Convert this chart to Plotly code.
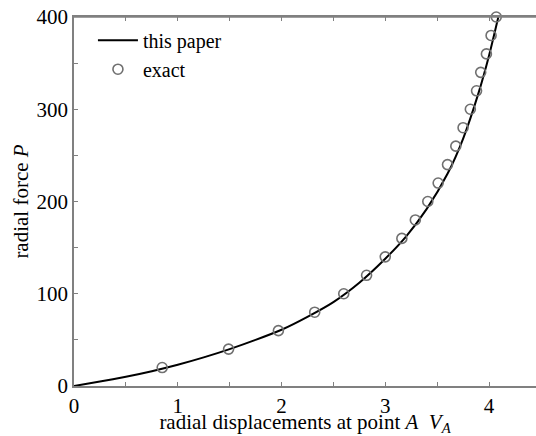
import plotly.graph_objects as go

# "this paper" curve
line_x = [0, 0.25, 0.5, 0.75, 1.0, 1.25, 1.5, 1.75, 2.0, 2.25, 2.5, 2.75, 3.0, 3.2, 3.4, 3.6, 3.75, 3.9, 4.0, 4.09]
line_y = [0, 4.8, 10, 16, 23, 31, 40, 50, 61, 75, 91, 112, 138, 162, 192, 230, 268, 318, 358, 400]

# "exact" points
exact_x = [0.85, 1.49, 1.97, 2.32, 2.60, 2.82, 3.00, 3.16, 3.29, 3.41, 3.51, 3.60, 3.68, 3.75, 3.82, 3.88, 3.92, 3.975, 4.02, 4.07]
exact_y = [20, 40, 60, 80, 100, 120, 140, 160, 180, 200, 220, 240, 260, 280, 300, 320, 340, 360, 380, 400]

x_ticks = [0, 1, 2, 3, 4]
y_ticks = [0, 100, 200, 300, 400]

font = "Liberation Serif, Times New Roman, serif"
FS = 21
AX = "#808080"

fig = go.Figure()
fig.add_trace(go.Scatter(x=line_x, y=line_y, mode="lines", name="this paper", cliponaxis=False,
                         line=dict(color="black", width=2, shape="spline", smoothing=0.6)))
fig.add_trace(go.Scatter(x=exact_x, y=exact_y, mode="markers", name="exact", cliponaxis=False,
                         marker=dict(symbol="circle-open", size=10, color="#707070",
                                     line=dict(width=1.6, color="#707070"))))

axis_common = dict(showgrid=False, zeroline=False, showline=True, linecolor=AX, linewidth=1.5,
                   ticks="inside", ticklen=4, tickcolor=AX, automargin=False,
                   ticklabeloverflow="allow",
                   tickfont=dict(family=font, size=FS, color="black"))

fig.update_layout(
    width=536, height=436,
    margin=dict(l=74, r=0, t=17, b=50),
    plot_bgcolor="white", paper_bgcolor="white",
    showlegend=True,
    legend=dict(x=0.041, y=0.99, xanchor="left", yanchor="top", bgcolor="rgba(0,0,0,0)",
                font=dict(family=font, size=FS - 1, color="black"), tracegroupgap=0,
                itemwidth=40),
    xaxis=dict(range=[0, 4.453], tickvals=x_ticks, mirror="allticks",
               minor=dict(ticks="inside", dtick=0.5, ticklen=4, tickcolor=AX),
               title=dict(text="radial displacements at point <i>A</i>  <i>V<sub>A</sub></i>",
                          font=dict(family=font, size=FS, color="black"), standoff=0),
               **axis_common),
    yaxis=dict(range=[0, 400], tickvals=y_ticks,
               minor=dict(ticks="inside", dtick=50, ticklen=4, tickcolor=AX),
               title=dict(text="radial force <i>P</i>",
                          font=dict(family=font, size=FS, color="black"), standoff=2),
               **axis_common),
    shapes=[dict(type="line", xref="paper", yref="paper", x0=0, x1=1, y0=1, y1=1,
                 line=dict(color=AX, width=1.5), layer="above")],
)

fig.write_html("out.html", config={"displayModeBar": False},
               post_script="document.body.style.margin='0';")
